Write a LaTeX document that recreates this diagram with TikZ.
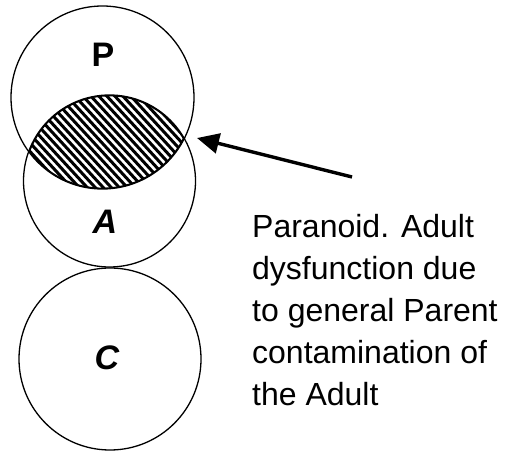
\documentclass[tikz,border=0pt]{standalone}
\usepackage{fontspec}
\setmainfont{Liberation Sans}
\usetikzlibrary{arrows.meta}

\tikzset{
  ego/.style={circle, draw, line width=1.3pt, inner sep=0pt},
  egolabel/.style={font=\fontsize{34}{34}\selectfont\bfseries},
  note/.style={align=left, anchor=north west, inner sep=0pt,
               font=\fontsize{32}{42}\selectfont},
  pointer/.style={-{Triangle[length=22pt,width=20pt]}, line width=3.4pt}
}

\begin{document}
\begin{tikzpicture}[x=1pt,y=-1pt]
  \useasboundingbox (0,0) rectangle (509,454);

  % ego states
  \node[ego, minimum size=183pt] (parent) at (102.5,97.5) {};
  \node[ego, minimum size=172pt] (adult) at (109.5,181) {};
  \node[ego, minimum size=182pt] (child) at (110,359) {};

  % contamination (overlap of P and A)
  \begin{scope}
    \clip (parent.center) circle (91.5pt);
    \clip (adult.center) circle (86pt);
    \foreach \s in {-140,-132,...,200}{
      \draw[line width=3pt] (\s,80) -- (\s+120,210);
    }
    \draw[line width=2.8pt] (parent.center) circle (91.5pt);
    \draw[line width=2.8pt] (adult.center) circle (86pt);
  \end{scope}

  \node[egolabel] (plabel) at (103,55) {P};
  \node[egolabel, font=\fontsize{34}{34}\selectfont\bfseries\itshape] (alabel) at (105,222) {A};
  \node[egolabel, font=\fontsize{34}{34}\selectfont\bfseries\itshape] (clabel) at (107,358) {C};

  % pointer to the overlap
  \coordinate (tail) at (352,177);
  \coordinate (tip) at (197,138);
  \draw[pointer] (tail) -- (tip);

  \node[note] (remark) at (252,214) {Paranoid. Adult\\dysfunction due\\to general Parent\\contamination of\\the Adult};
\end{tikzpicture}
\end{document}
